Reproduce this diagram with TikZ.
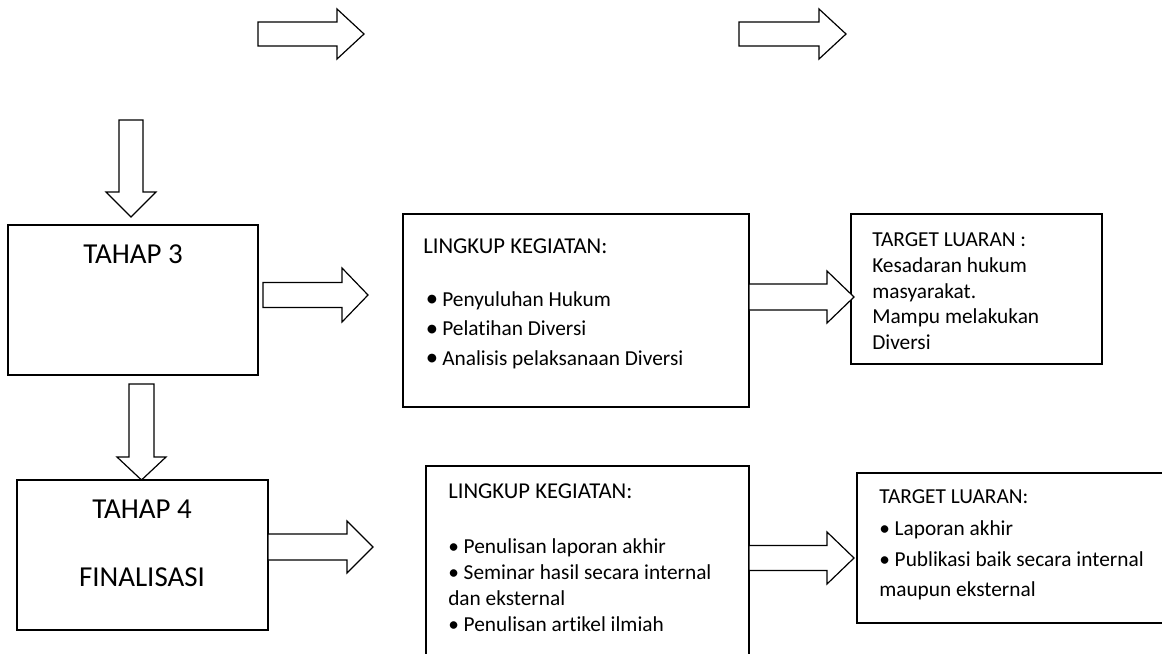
\documentclass[tikz,border=0pt]{standalone}
\usepackage{fontspec}
\setmainfont{Carlito}[Ligatures=NoCommon]
\usetikzlibrary{fit}
\tikzset{
  box/.style={draw=black, line width=1pt, inner sep=0pt, fill=white},
  blockarrow/.style={draw=black, line width=0.9pt, fill=white, line join=miter},
  bigtxt/.style={inner sep=0pt, font=\fontsize{21.7}{26}\selectfont},
  txt/.style={anchor=base west, inner sep=0pt, font=\fontsize{16}{19}\selectfont},
  head/.style={txt, font=\fontsize{17}{20}\selectfont},
  bul/.style={anchor=base, inner sep=0pt, font=\fontsize{18.5}{22}\selectfont}
}
% horizontal block arrow: x0, xhead, xtip, ycenter, shaft half, head half
\newcommand{\hblock}[6]{%
  \draw[blockarrow] (#1,{#4-#5}) -- (#2,{#4-#5}) -- (#2,{#4-#6}) -- (#3,#4)
    -- (#2,{#4+#6}) -- (#2,{#4+#5}) -- (#1,{#4+#5}) -- cycle;}
% vertical block arrow: xcenter, y0, yhead, ytip, shaft half, head half
\newcommand{\vblock}[6]{%
  \draw[blockarrow] ({#1-#5},#2) -- ({#1-#5},#3) -- ({#1-#6},#3) -- (#1,#4)
    -- ({#1+#6},#3) -- ({#1+#5},#3) -- ({#1+#5},#2) -- cycle;}
\begin{document}
\begin{tikzpicture}[x=0.75pt,y=-0.75pt]
\useasboundingbox (0,0) rectangle (1162,653);
\clip (0,0) rectangle (1162,653);
\fill[white] (0,0) rectangle (1162,653);

% top arrows
\hblock{258}{337}{364}{34}{12}{25}
\hblock{739}{819}{846}{34}{12}{25}

% boxes
\node[box, fit={(8,225)(258,375)}] (t3) {};
\node[box, fit={(17,480)(268,630)}] (t4) {};
\node[box, fit={(403,214)(749,407)}] (k1) {};
\node[box, fit={(851,214)(1102,364)}] (g1) {};
\node[box, fit={(426,466)(749,690)}] (k2) {};
\node[box, fit={(857,473)(1190,623)}] (g2) {};

% down arrows
\vblock{131}{120}{192}{217}{12}{25}
\vblock{141.5}{384}{457}{480}{12.5}{24.5}

% right arrows
\hblock{263}{342}{368}{295}{12.5}{27}
\hblock{749}{827}{854}{297}{13}{26}
\hblock{268}{347}{373}{547}{13}{26}
\hblock{749}{827}{854}{558}{12.5}{26}

% texts of TAHAP boxes
\node[bigtxt] (t3a) at (133,254) {TAHAP 3};
\node[bigtxt] (t4a) at (142,509) {TAHAP 4};
\node[bigtxt] (t4b) at (142,577) {FINALISASI};

% LINGKUP 1
\node[head] (k1h) at (423,253) {LINGKUP KEGIATAN:};
\node[bul] (k1b1) at (432,306.5) {•};
\node[txt] (k1t1) at (442,306) {Penyuluhan Hukum};
\node[bul] (k1b2) at (432,336) {•};
\node[txt] (k1t2) at (442,335.5) {Pelatihan Diversi};
\node[bul] (k1b3) at (432,365.5) {•};
\node[txt] (k1t3) at (442,365) {Analisis pelaksanaan Diversi};

% TARGET 1
\node[txt] (g1a) at (872,246) {TARGET LUARAN :};
\node[txt] (g1b) at (872,272) {Kesadaran hukum};
\node[txt] (g1c) at (872,298) {masyarakat.};
\node[txt] (g1d) at (872,323.5) {Mampu melakukan};
\node[txt] (g1e) at (872,349) {Diversi};

% LINGKUP 2
\node[head] (k2h) at (448,498.5) {LINGKUP KEGIATAN:};
\node[txt] (k2a) at (448,553) {• Penulisan laporan akhir};
\node[txt] (k2b) at (448,579) {• Seminar hasil secara internal};
\node[txt] (k2c) at (448,605) {dan eksternal};
\node[txt] (k2d) at (448,631) {• Penulisan artikel ilmiah};

% TARGET 2
\node[txt] (g2a) at (879,503) {TARGET LUARAN:};
\node[txt] (g2b) at (879,535) {• Laporan akhir};
\node[txt] (g2c) at (879,566) {• Publikasi baik secara internal};
\node[txt] (g2d) at (879,596) {maupun eksternal};
\end{tikzpicture}
\end{document}
